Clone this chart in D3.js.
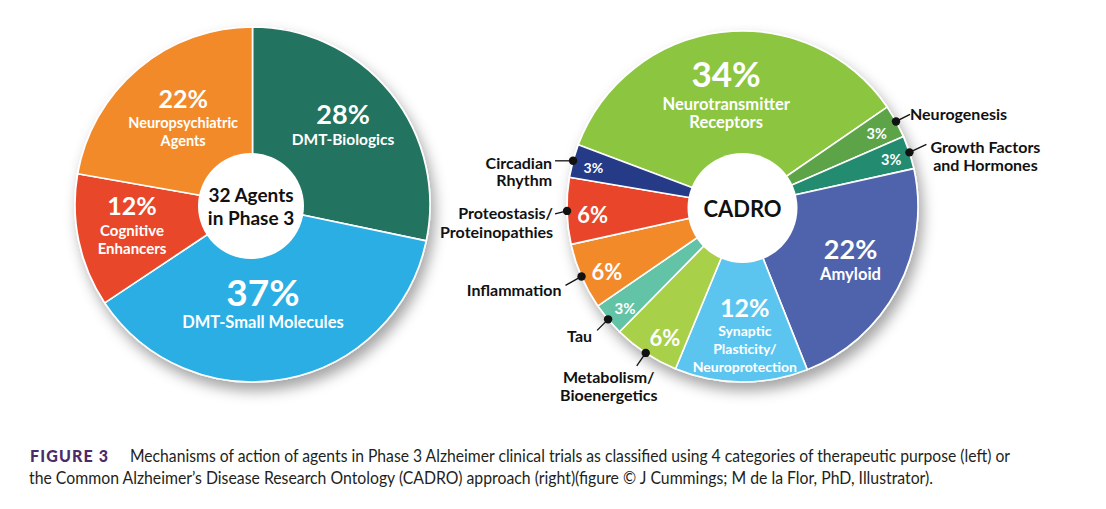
<!DOCTYPE html>
<html><head><meta charset="utf-8">
<script src="https://cdn.jsdelivr.net/npm/d3@7"></script>
<style>html,body{margin:0;padding:0;background:#fff;} svg{display:block;}</style>
</head><body>
<svg id="chart" width="1106" height="509"></svg>
<script>
// ---------- DATA ----------
const leftCategories = ["DMT-Biologics", "DMT-Small Molecules", "Cognitive Enhancers", "Neuropsychiatric Agents"];
const leftValues = [28, 37, 12, 22];
const leftLabelLines = [["DMT-Biologics"], ["DMT-Small Molecules"], ["Cognitive", "Enhancers"], ["Neuropsychiatric", "Agents"]];
const leftCenterText = ["32 Agents", "in Phase 3"];

const rightCategories = ["Neurotransmitter Receptors", "Neurogenesis", "Growth Factors and Hormones", "Amyloid",
  "Synaptic Plasticity/Neuroprotection", "Metabolism/Bioenergetics", "Tau", "Inflammation",
  "Proteostasis/Proteinopathies", "Circadian Rhythm"];
const rightValues = [34, 3, 3, 22, 12, 6, 3, 6, 6, 3];
const rightLabelLines = [["Neurotransmitter", "Receptors"], ["Neurogenesis"], ["Growth Factors", "and Hormones"], ["Amyloid"],
  ["Synaptic", "Plasticity/", "Neuroprotection"], ["Metabolism/", "Bioenergetics"], ["Tau"], ["Inflammation"],
  ["Proteostasis/", "Proteinopathies"], ["Circadian", "Rhythm"]];
const rightCenterText = ["CADRO"];

const captionHead = "FIGURE 3";
const captionLines = [
  "Mechanisms of action of agents in Phase 3 Alzheimer clinical trials as classified using 4 categories of therapeutic purpose (left) or",
  "the Common Alzheimer\u2019s Disease Research Ontology (CADRO) approach (right)(figure \u00A9 J Cummings; M de la Flor, PhD, Illustrator)."
];

// ---------- STYLE / LAYOUT ----------
const leftColors = ["#24735f", "#29aee4", "#e9472a", "#f38a2b"];
const rightColors = ["#8cc63f", "#5ba446", "#238b6f", "#4f63ad", "#5cc5ef", "#a9d04a", "#63c3a6", "#f28a2b", "#e9452c", "#273b87"];
const FONT = "Lato, 'Open Sans', sans-serif";
const deg = Math.PI / 180;

// internal label layout: r = radius of percent text, da = angle nudge (deg), ps = percent size, ls = label size, off = line offsets
const leftLayout = [
  {r: 128.7, da: -6.2, ps: 27, ls: 15.5, off: [26]},
  {r: 88, da: 4.1, ps: 37, ls: 16.5, off: [30]},
  {r: 120.5, da: 11.6, ps: 25, ls: 15, off: [25, 43]},
  {r: 127, da: 6.9, ps: 25, ls: 14.5, off: [24, 42]}
];
const rightLayout = [
  {r: 135, da: 0, ps: 35, ls: 16.5, off: [31, 49], inside: true},
  {r: 153, da: 0.3, ps: 14.5},
  {r: 156, da: 0.3, ps: 14.5},
  {r: 116, da: -6.6, ps: 27, ls: 16.5, off: [25], inside: true},
  {r: 101, da: -1.7, ps: 25, ls: 14, off: [23, 41, 59], inside: true},
  {r: 152, da: -2.7, ps: 22},
  {r: 155, da: -0.7, ps: 15},
  {r: 150.5, da: -2.2, ps: 22},
  {r: 150, da: -1.8, ps: 22},
  {r: 154, da: -0.6, ps: 14}
];
// external labels: elbow offset from dot, text offset from dot, anchor, line height
const rightExternal = {
  1: {elbow: [14, -7], text: [14, -8], anchor: "start", lh: 18},
  2: {elbow: [17, -8], text: [76, -6], anchor: "middle", lh: 18},
  5: {elbow: [-9, 13], text: [-37, 24], anchor: "middle", lh: 18},
  6: {elbow: [-11, 11], text: [-16, 16], anchor: "end", lh: 18},
  7: {elbow: [-16, 9], text: [-20, 13], anchor: "end", lh: 18},
  8: {elbow: [-12, 3], text: [-14, 2], anchor: "end", lh: 19},
  9: {elbow: [-18, 0], text: [-21, 2], anchor: "end", lh: 17}
};

const svg = d3.select("#chart");
const defs = svg.append("defs");
const f = defs.append("filter").attr("id", "shadow").attr("x", "-20%").attr("y", "-20%").attr("width", "150%").attr("height", "150%");
f.append("feDropShadow").attr("dx", 4).attr("dy", 8).attr("stdDeviation", 7)
  .attr("flood-color", "#000").attr("flood-opacity", 0.36);

function drawPie(opts) {
  const {cx, cy, R, values, colors, startDeg, holeR, holeCx, holeCy, centerText, centerSize} = opts;
  const pie = d3.pie().sort(null).value(d => d)
    .startAngle(startDeg * deg).endAngle((startDeg + 360) * deg);
  const arcs = pie(values);
  const arc = d3.arc().innerRadius(0).outerRadius(R);
  const g = svg.append("g").attr("transform", `translate(${cx},${cy})`);
  const pg = g.append("g").attr("filter", "url(#shadow)");
  pg.selectAll("path").data(arcs).join("path")
    .attr("d", arc)
    .attr("fill", (d, i) => colors[i])
    .attr("stroke", "#fff").attr("stroke-width", 1.6).attr("stroke-linejoin", "round");
  g.append("circle").attr("cx", holeCx).attr("cy", holeCy).attr("r", holeR).attr("fill", "#fff");
  const n = centerText.length;
  centerText.forEach((t, i) => {
    g.append("text").attr("x", holeCx).attr("y", holeCy + (i - (n - 1) / 2) * 23)
      .attr("text-anchor", "middle").attr("dominant-baseline", "central")
      .attr("font-family", FONT).attr("font-weight", 700).attr("font-size", centerSize)
      .attr("fill", "#111").text(t);
  });
  return {g, arcs};
}

function pct(v) { return v + "%"; }

// ---------- LEFT PIE ----------
const L = drawPie({cx: 252.5, cy: 204.5, R: 177.5, values: leftValues, colors: leftColors, startDeg: 0,
  holeR: 53, holeCx: -1.5, holeCy: 1.5, centerText: leftCenterText, centerSize: 19});
L.arcs.forEach((a, i) => {
  const lay = leftLayout[i];
  const ang = (a.startAngle + a.endAngle) / 2 + lay.da * deg;
  const x = lay.r * Math.sin(ang), y = -lay.r * Math.cos(ang);
  L.g.append("text").attr("x", x).attr("y", y).attr("text-anchor", "middle").attr("dominant-baseline", "central")
    .attr("font-family", FONT).attr("font-weight", 700).attr("font-size", lay.ps).attr("fill", "#fff")
    .text(pct(leftValues[i]));
  leftLabelLines[i].forEach((t, j) => {
    L.g.append("text").attr("x", x).attr("y", y + lay.off[j]).attr("text-anchor", "middle").attr("dominant-baseline", "central")
      .attr("font-family", FONT).attr("font-weight", 700).attr("font-size", lay.ls).attr("fill", "#fff").text(t);
  });
});

// ---------- RIGHT PIE ----------
const Rr = 175.5;
const Rp = drawPie({cx: 742.5, cy: 206.5, R: Rr, values: rightValues, colors: rightColors, startDeg: -69.4,
  holeR: 55, holeCx: 0, holeCy: 1.5, centerText: rightCenterText, centerSize: 22});
Rp.arcs.forEach((a, i) => {
  const lay = rightLayout[i];
  const mid = (a.startAngle + a.endAngle) / 2;
  const ang = mid + lay.da * deg;
  const x = lay.r * Math.sin(ang), y = -lay.r * Math.cos(ang);
  Rp.g.append("text").attr("x", x).attr("y", y).attr("text-anchor", "middle").attr("dominant-baseline", "central")
    .attr("font-family", FONT).attr("font-weight", 700).attr("font-size", lay.ps).attr("fill", "#fff")
    .text(pct(rightValues[i]));
  if (lay.inside) {
    rightLabelLines[i].forEach((t, j) => {
      Rp.g.append("text").attr("x", x).attr("y", y + lay.off[j]).attr("text-anchor", "middle").attr("dominant-baseline", "central")
        .attr("font-family", FONT).attr("font-weight", 700).attr("font-size", lay.ls).attr("fill", "#fff").text(t);
    });
  } else {
    const ex = rightExternal[i];
    const dx = Rr * Math.sin(mid), dy = -Rr * Math.cos(mid);
    Rp.g.append("line").attr("x1", dx).attr("y1", dy).attr("x2", dx + ex.elbow[0]).attr("y2", dy + ex.elbow[1])
      .attr("stroke", "#111").attr("stroke-width", 1.3);
    Rp.g.append("circle").attr("cx", dx).attr("cy", dy).attr("r", 4.2).attr("fill", "#111");
    rightLabelLines[i].forEach((t, j) => {
      Rp.g.append("text").attr("x", dx + ex.text[0]).attr("y", dy + ex.text[1] + j * ex.lh)
        .attr("text-anchor", ex.anchor).attr("dominant-baseline", "central")
        .attr("font-family", FONT).attr("font-weight", 700).attr("font-size", 16).attr("fill", "#111").text(t);
    });
  }
});

// ---------- CAPTION ----------
svg.append("text").attr("x", 30).attr("y", 462).attr("font-family", FONT).attr("font-weight", 900)
  .attr("font-size", 16).attr("letter-spacing", 2).attr("fill", "#4d2a68")
  .attr("textLength", 80).attr("lengthAdjust", "spacing").text(captionHead);
svg.append("text").attr("x", 130).attr("y", 462).attr("font-family", FONT).attr("font-size", 16.5).attr("fill", "#231f20")
  .attr("textLength", 880).attr("lengthAdjust", "spacingAndGlyphs").text(captionLines[0]);
svg.append("text").attr("x", 29).attr("y", 483.5).attr("font-family", FONT).attr("font-size", 16.5).attr("fill", "#231f20")
  .attr("textLength", 904).attr("lengthAdjust", "spacingAndGlyphs").text(captionLines[1]);
</script>
</body></html>
